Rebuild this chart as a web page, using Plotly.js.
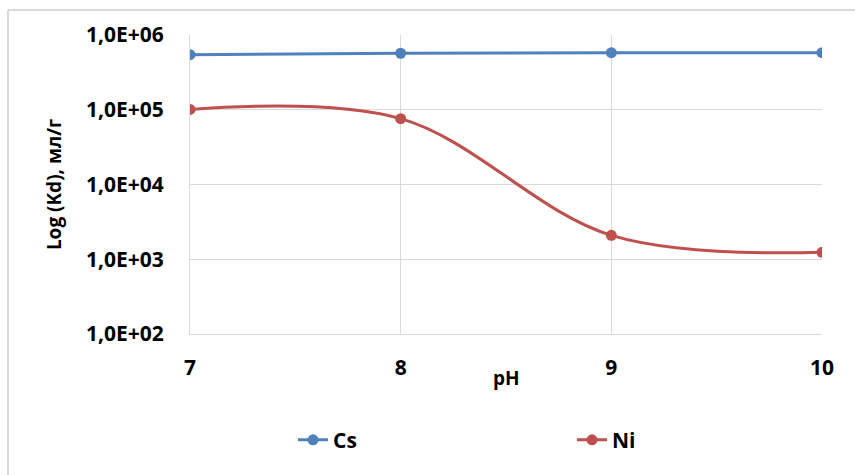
<!DOCTYPE html>
<html>
<head>
<meta charset="utf-8">
<script src="https://cdn.plot.ly/plotly-3.0.1.min.js"></script>
<style>
  html, body { margin: 0; padding: 0; background: #ffffff; }
  #chart { width: 855px; height: 475px; }
</style>
</head>
<body>
<div id="chart"></div>
<script>
// pH values and distribution coefficients Kd (ml/g)
const phValues = [7, 8, 9, 10];
const kdCs = [545000, 570000, 580000, 580000];
const kdNi = [101000, 76000, 2090, 1240];

// y-axis ticks (decades) and their labels
const yTickVals = [100, 1000, 10000, 100000, 1000000];
const yTickText = ['1,0E+02', '1,0E+03', '1,0E+04', '1,0E+05', '1,0E+06'];
const xTickVals = [7, 8, 9, 10];
const xTickText = ['7', '8', '9', '10'];

const fontFamily = '"Open Sans", "Noto Sans", sans-serif';
const labelFont = { family: fontFamily, size: 21, color: '#000000', weight: 700 };
const titleFont = { family: fontFamily, size: 19, color: '#000000', weight: 700 };

const traces = [
  {
    x: phValues, y: kdCs, name: 'Cs', type: 'scatter', mode: 'lines+markers',
    line: { color: '#4f81bd', width: 3, shape: 'spline', smoothing: 1 },
    marker: { color: '#4f81bd', size: 11 }
  },
  {
    x: phValues, y: kdNi, name: 'Ni', type: 'scatter', mode: 'lines+markers',
    line: { color: '#c0504d', width: 3, shape: 'spline', smoothing: 1 },
    marker: { color: '#c0504d', size: 11 }
  }
];

const layout = {
  width: 855, height: 475,
  margin: { l: 190, r: 33, t: 35, b: 141, autoexpand: false },
  paper_bgcolor: '#ffffff', plot_bgcolor: '#ffffff',
  showlegend: true,
  legend: {
    orientation: 'h', x: 0.163, xanchor: 'left', y: -0.355, yanchor: 'middle',
    entrywidth: 234, entrywidthmode: 'pixels',
    font: labelFont
  },
  xaxis: {
    range: [7, 10], tickvals: xTickVals, ticktext: xTickText,
    showgrid: true, gridcolor: '#d9d9d9', gridwidth: 1,
    showline: true, linecolor: '#d9d9d9', linewidth: 1, mirror: false,
    zeroline: false, ticks: 'outside', ticklen: 15, tickcolor: 'rgba(0,0,0,0)',
    tickfont: labelFont
  },
  yaxis: {
    type: 'log', range: [2, 6], tickvals: yTickVals, ticktext: yTickText,
    showgrid: true, gridcolor: '#d9d9d9', gridwidth: 1,
    showline: true, linecolor: '#d9d9d9', linewidth: 1,
    zeroline: false, ticks: 'outside', ticklen: 21, tickcolor: 'rgba(0,0,0,0)',
    tickfont: labelFont,
    title: { text: 'Log (Kd), мл/г', font: titleFont, standoff: 19 }
  },
  annotations: [
    // x-axis title, sitting between the tick labels
    { text: 'pH', xref: 'paper', yref: 'paper', x: 0.5, y: -0.147,
      xanchor: 'center', yanchor: 'middle', showarrow: false, font: titleFont }
  ],
  shapes: [
    // outer chart frame (left and top edges)
    { type: 'line', xref: 'paper', yref: 'paper', x0: -0.288, x1: -0.288, y0: -1, y1: 1.0836,
      line: { color: '#d9d9d9', width: 2 } },
    { type: 'line', xref: 'paper', yref: 'paper', x0: -0.288, x1: 2, y0: 1.0836, y1: 1.0836,
      line: { color: '#d9d9d9', width: 2 } }
  ]
};

Plotly.newPlot('chart', traces, layout, { displayModeBar: false, staticPlot: true });
</script>
</body>
</html>
